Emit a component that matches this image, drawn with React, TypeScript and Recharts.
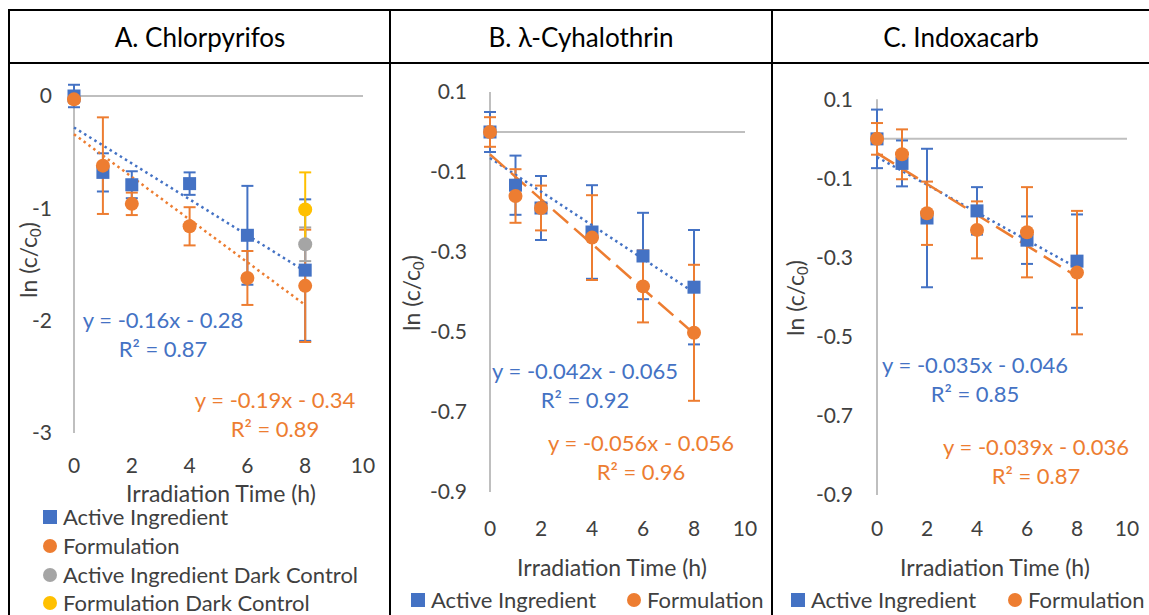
import React from 'react';
import { ComposedChart, Scatter, Line, XAxis, YAxis, ErrorBar, ReferenceLine } from 'recharts';

const BLUE = '#4472C4';
const ORANGE = '#ED7D31';
const GREY = '#A5A5A5';
const GOLD = '#FFC000';
const AXIS = '#BFBFBF';
const INK = '#404040';
const FONT = 'Lato, "Open Sans", sans-serif';

const hours = [0, 1, 2, 4, 6, 8];
const xTicks = [0, 2, 4, 6, 8, 10];

// A. Chlorpyrifos
const chlorActive = [0, -0.68, -0.79, -0.78, -1.24, -1.55];
const chlorActiveErr = [0.1, 0.17, 0.12, 0.1, 0.44, 0.63];
const chlorForm = [-0.03, -0.62, -0.96, -1.16, -1.62, -1.69];
const chlorFormErr = [0.03, 0.43, 0.1, 0.17, 0.24, 0.5];
const darkHours = [8];
const chlorActiveDark = [-1.32];
const chlorActiveDarkErr = [0.15];
const chlorFormDark = [-1.01];
const chlorFormDarkErr = [0.33];
const chlorTicks = [0, -1, -2, -3];
const chlorActiveFit = [-0.16, -0.28];
const chlorFormFit = [-0.19, -0.34];

// B. λ-Cyhalothrin
const cyhaActive = [0, -0.133, -0.19, -0.25, -0.31, -0.388];
const cyhaActiveErr = [0.05, 0.074, 0.08, 0.117, 0.108, 0.143];
const cyhaForm = [0, -0.16, -0.19, -0.264, -0.386, -0.502];
const cyhaFormErr = [0.037, 0.067, 0.056, 0.106, 0.09, 0.17];
const cyhaActiveFit = [-0.042, -0.065];
const cyhaFormFit = [-0.056, -0.056];

// C. Indoxacarb
const indoActive = [0, -0.062, -0.2, -0.182, -0.256, -0.309];
const indoActiveErr = [0.074, 0.058, 0.175, 0.06, 0.06, 0.118];
const indoForm = [0, -0.039, -0.188, -0.23, -0.236, -0.338];
const indoFormErr = [0.04, 0.063, 0.08, 0.072, 0.114, 0.156];
const indoActiveFit = [-0.035, -0.046];
const indoFormFit = [-0.039, -0.036];

const smallTicks = [0.1, -0.1, -0.3, -0.5, -0.7, -0.9];

type Row = { t: number; y: number; err: number };

const rows = (t: number[], y: number[], err: number[]): Row[] =>
  t.map((v, i) => ({ t: v, y: y[i], err: err[i] }));

const fitRows = ([m, b]: number[]) => [0, 8].map((t) => ({ t, y: m * t + b }));

const fitLabel = ([m, b]: number[]) => `y = ${m}x - ${Math.abs(b)}`;

type Series = { name: string; data: Row[]; color: string; shape: 'square' | 'circle' };
type Fit = { coef: number[]; r2: string; color: string; dash: string; at: [number, number] };
type Box = { left: number; top: number; width: number; height: number };
type Plot = { left: number; right: number; top: number; bottom: number };

const marker = (color: string, shape: 'square' | 'circle') => (p: any) =>
  shape === 'square' ? (
    <rect x={p.cx - 6.5} y={p.cy - 6.5} width={13} height={13} fill={color} />
  ) : (
    <circle cx={p.cx} cy={p.cy} r={7} fill={color} />
  );

const Centered = ({ x, y, size, color, children, rotate }: any) => (
  <div
    style={{
      position: 'absolute',
      left: x,
      top: y,
      transform: `translate(-50%, -50%)${rotate ? ' rotate(-90deg)' : ''}`,
      whiteSpace: 'nowrap',
      fontSize: size,
      lineHeight: 1,
      color,
    }}
  >
    {children}
  </div>
);

const KeyItem = ({ x, y, color, shape, label }: any) => (
  <div
    style={{
      position: 'absolute',
      left: x - 7,
      top: y,
      transform: 'translateY(-50%)',
      display: 'flex',
      alignItems: 'center',
      whiteSpace: 'nowrap',
      fontSize: 22,
      lineHeight: 1,
      color: INK,
    }}
  >
    <span
      style={{
        display: 'inline-block',
        width: 14,
        height: 14,
        background: color,
        borderRadius: shape === 'circle' ? '50%' : 0,
        marginRight: 6,
      }}
    />
    {label}
  </div>
);

type PanelProps = {
  box: Box;
  plot: Plot;
  yDomain: number[];
  yTicks: number[];
  axisTop: number;
  xGap: number;
  yGap: number;
  series: Series[];
  fits: Fit[];
};

function Panel({ box, plot, yDomain, yTicks, axisTop, xGap, yGap, series, fits }: PanelProps) {
  const margin = { top: plot.top - box.top, right: box.left + box.width - plot.right, left: 0, bottom: 0 };
  const tick = { fill: INK, fontSize: 21, fontFamily: FONT };
  return (
    <>
      <div style={{ position: 'absolute', left: box.left, top: box.top }}>
        <ComposedChart width={box.width} height={box.height} margin={margin}>
          <XAxis
            type="number"
            dataKey="t"
            domain={[0, 10]}
            ticks={xTicks}
            interval={0}
            axisLine={false}
            tickLine={false}
            tickSize={0}
            tickMargin={xGap}
            height={box.top + box.height - plot.bottom}
            tick={tick}
          />
          <YAxis
            type="number"
            dataKey="y"
            domain={yDomain}
            ticks={yTicks}
            interval={0}
            axisLine={false}
            tickLine={false}
            tickSize={0}
            tickMargin={yGap}
            width={plot.left - box.left}
            tick={tick}
          />
          <ReferenceLine y={0} stroke={AXIS} strokeWidth={2} />
          <ReferenceLine
            segment={[
              { x: 0, y: yDomain[0] },
              { x: 0, y: axisTop },
            ]}
            stroke={AXIS}
            strokeWidth={2}
          />
          {series.map((s) => (
            <Scatter
              key={s.name}
              name={s.name}
              data={s.data}
              dataKey="y"
              fill={s.color}
              shape={marker(s.color, s.shape)}
              isAnimationActive={false}
            >
              <ErrorBar dataKey="err" direction="y" width={6} stroke={s.color} strokeWidth={2} />
            </Scatter>
          ))}
          {fits.map((f, i) => (
            <Line
              key={i}
              data={fitRows(f.coef)}
              dataKey="y"
              type="linear"
              stroke={f.color}
              strokeWidth={2.5}
              strokeDasharray={f.dash}
              dot={false}
              activeDot={false}
              legendType="none"
              isAnimationActive={false}
            />
          ))}
        </ComposedChart>
      </div>
      {fits.map((f, i) => (
        <React.Fragment key={i}>
          <Centered x={f.at[0]} y={f.at[1]} size={22} color={f.color}>
            {fitLabel(f.coef)}
          </Centered>
          <Centered x={f.at[0]} y={f.at[1] + 29} size={22} color={f.color}>
            R² = {f.r2}
          </Centered>
        </React.Fragment>
      ))}
    </>
  );
}

const DOT = '2.5 3.5';
const DASH = '20 8';

const yTitle = (
  <span>
    ln (c/c<sub style={{ fontSize: '0.65em', verticalAlign: '-0.25em' }}>0</sub>)
  </span>
);

export default function App() {
  return (
    <div
      style={{
        position: 'absolute',
        left: 0,
        top: 0,
        width: 1149,
        height: 615,
        background: '#fff',
        overflow: 'hidden',
        fontFamily: FONT,
      }}
    >
      {/* table rules */}
      <div style={{ position: 'absolute', left: 8, top: 9, width: 1150, height: 2, background: '#000' }} />
      <div style={{ position: 'absolute', left: 8, top: 62, width: 1150, height: 2, background: '#000' }} />
      <div style={{ position: 'absolute', left: 8, top: 9, width: 2, height: 620, background: '#000' }} />
      <div style={{ position: 'absolute', left: 389, top: 9, width: 2, height: 620, background: '#000' }} />
      <div style={{ position: 'absolute', left: 771, top: 9, width: 2, height: 620, background: '#000' }} />

      <Centered x={200} y={37} size={26} color="#000">A. Chlorpyrifos</Centered>
      <Centered x={581} y={37} size={26} color="#000">B. λ-Cyhalothrin</Centered>
      <Centered x={961} y={37} size={26} color="#000">C. Indoxacarb</Centered>

      <Panel
        box={{ left: 10, top: 64, width: 379, height: 551 }}
        plot={{ left: 74, right: 363, top: 79.15, bottom: 433 }}
        yDomain={[-3, 0.15]}
        yTicks={chlorTicks}
        axisTop={0}
        xGap={24.6}
        yGap={22}
        series={[
          { name: 'Active Ingredient', data: rows(hours, chlorActive, chlorActiveErr), color: BLUE, shape: 'square' },
          { name: 'Formulation', data: rows(hours, chlorForm, chlorFormErr), color: ORANGE, shape: 'circle' },
          {
            name: 'Active Ingredient Dark Control',
            data: rows(darkHours, chlorActiveDark, chlorActiveDarkErr),
            color: GREY,
            shape: 'circle',
          },
          {
            name: 'Formulation Dark Control',
            data: rows(darkHours, chlorFormDark, chlorFormDarkErr),
            color: GOLD,
            shape: 'circle',
          },
        ]}
        fits={[
          { coef: chlorActiveFit, r2: '0.87', color: BLUE, dash: DOT, at: [163, 320] },
          { coef: chlorFormFit, r2: '0.89', color: ORANGE, dash: DOT, at: [275, 400] },
        ]}
      />
      <Centered x={30} y={260} size={23} color={INK} rotate>{yTitle}</Centered>
      <Centered x={221} y={493} size={23} color={INK}>Irradiation Time (h)</Centered>
      <KeyItem x={50} y={517} color={BLUE} shape="square" label="Active Ingredient" />
      <KeyItem x={50} y={546} color={ORANGE} shape="circle" label="Formulation" />
      <KeyItem x={50} y={575} color={GREY} shape="circle" label="Active Ingredient Dark Control" />
      <KeyItem x={50} y={603} color={GOLD} shape="circle" label="Formulation Dark Control" />

      <Panel
        box={{ left: 391, top: 64, width: 380, height: 551 }}
        plot={{ left: 490, right: 745, top: 92, bottom: 492 }}
        yDomain={[-0.9, 0.1]}
        yTicks={smallTicks}
        axisTop={0.1}
        xGap={28.6}
        yGap={23}
        series={[
          { name: 'Active Ingredient', data: rows(hours, cyhaActive, cyhaActiveErr), color: BLUE, shape: 'square' },
          { name: 'Formulation', data: rows(hours, cyhaForm, cyhaFormErr), color: ORANGE, shape: 'circle' },
        ]}
        fits={[
          { coef: cyhaActiveFit, r2: '0.92', color: BLUE, dash: DOT, at: [585, 371] },
          { coef: cyhaFormFit, r2: '0.96', color: ORANGE, dash: DASH, at: [641, 443] },
        ]}
      />
      <Centered x={413} y={293} size={23} color={INK} rotate>{yTitle}</Centered>
      <Centered x={612} y={567} size={23} color={INK}>Irradiation Time (h)</Centered>
      <KeyItem x={418} y={600} color={BLUE} shape="square" label="Active Ingredient" />
      <KeyItem x={634} y={600} color={ORANGE} shape="circle" label="Formulation" />

      <Panel
        box={{ left: 773, top: 64, width: 376, height: 551 }}
        plot={{ left: 877, right: 1127, top: 99.3, bottom: 495 }}
        yDomain={[-0.9, 0.1]}
        yTicks={smallTicks}
        axisTop={0.1}
        xGap={25.6}
        yGap={24}
        series={[
          { name: 'Active Ingredient', data: rows(hours, indoActive, indoActiveErr), color: BLUE, shape: 'square' },
          { name: 'Formulation', data: rows(hours, indoForm, indoFormErr), color: ORANGE, shape: 'circle' },
        ]}
        fits={[
          { coef: indoActiveFit, r2: '0.85', color: BLUE, dash: DOT, at: [975, 365] },
          { coef: indoFormFit, r2: '0.87', color: ORANGE, dash: DASH, at: [1036, 447] },
        ]}
      />
      <Centered x={797} y={298} size={23} color={INK} rotate>{yTitle}</Centered>
      <Centered x={995} y={567} size={23} color={INK}>Irradiation Time (h)</Centered>
      <KeyItem x={798} y={600} color={BLUE} shape="square" label="Active Ingredient" />
      <KeyItem x={1015} y={600} color={ORANGE} shape="circle" label="Formulation" />
    </div>
  );
}
